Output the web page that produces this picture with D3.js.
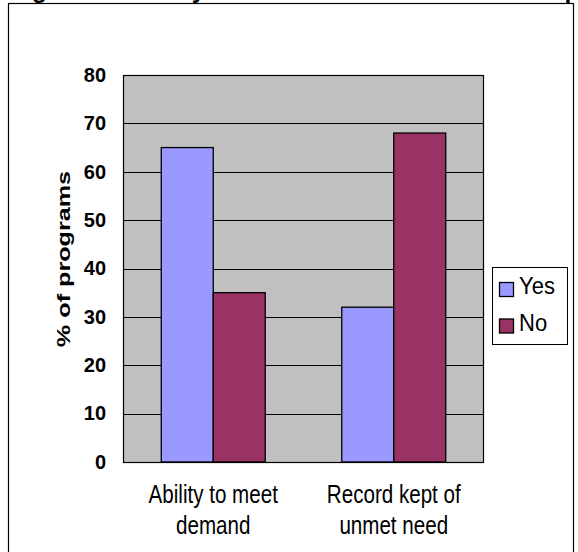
<!DOCTYPE html>
<html>
<head>
<meta charset="utf-8">
<script src="https://cdn.jsdelivr.net/npm/d3@7/dist/d3.min.js"></script>
<style>
  html, body { margin: 0; padding: 0; background: #fff; }
  svg { display: block; }
  text { font-family: Arial, "Liberation Sans", sans-serif; fill: #000; }
</style>
</head>
<body>
<svg id="chart" width="578" height="552"></svg>
<script>
const titleText = "Figure 10. Ability to meet demand and record kept of unmet need";
const categories = [["Ability to meet", "demand"], ["Record kept of", "unmet need"]];
const seriesNames = ["Yes", "No"];
const yesValues = [65, 32];
const noValues = [35, 68];
const yTicks = [0, 10, 20, 30, 40, 50, 60, 70, 80];
const yTitle = "% of programs";
const colors = ["#9999FF", "#993366"];

const svg = d3.select("#chart");
const plot = { left: 123, top: 75, right: 484, bottom: 462 };

// outer chart border
svg.append("rect").attr("x", 8.5).attr("y", 3.5).attr("width", 565).attr("height", 560)
  .attr("fill", "#fff").attr("stroke", "#000").attr("stroke-width", 1.2);

// cropped title (only descenders visible, as in the reference)
svg.append("text").attr("x", 10.4).attr("y", -2)
  .attr("font-size", 24.3).attr("font-weight", "bold").text(titleText);

const catKeys = categories.map(c => c.join(" "));
const x = d3.scaleBand().domain(catKeys).range([plot.left, plot.right])
  .paddingInner(0.424).paddingOuter(0.212);
const xs = d3.scaleBand().domain(seriesNames).range([0, x.bandwidth()]);
const y = d3.scaleLinear().domain([0, 80]).range([plot.bottom, plot.top]);

// plot area
svg.append("rect").attr("x", plot.left).attr("y", plot.top)
  .attr("width", plot.right - plot.left).attr("height", plot.bottom - plot.top)
  .attr("fill", "#C0C0C0");

// gridlines
svg.append("g").selectAll("line").data(yTicks.filter(t => t > 0 && t < 80)).join("line")
  .attr("x1", plot.left).attr("x2", plot.right)
  .attr("y1", d => Math.round(y(d)) + 0.5).attr("y2", d => Math.round(y(d)) + 0.5)
  .attr("stroke", "#000").attr("stroke-width", 1);

// bars
const data = [];
catKeys.forEach((k, i) => {
  data.push({ cat: k, s: "Yes", v: yesValues[i] });
  data.push({ cat: k, s: "No", v: noValues[i] });
});
svg.append("g").selectAll("rect").data(data).join("rect")
  .attr("x", d => x(d.cat) + xs(d.s))
  .attr("y", d => y(d.v))
  .attr("width", xs.bandwidth())
  .attr("height", d => y(0) - y(d.v))
  .attr("fill", d => colors[seriesNames.indexOf(d.s)])
  .attr("stroke", "#000").attr("stroke-width", 1.3);

// plot border
svg.append("rect").attr("x", plot.left + 0.5).attr("y", plot.top + 0.5)
  .attr("width", plot.right - plot.left - 1).attr("height", plot.bottom - plot.top)
  .attr("fill", "none").attr("stroke", "#000").attr("stroke-width", 1.2);

// y axis labels
const yAxis = d3.axisLeft(y).tickValues(yTicks).tickSize(0).tickPadding(17);
const ga = svg.append("g").attr("transform", `translate(${plot.left},0)`).call(yAxis);
ga.select(".domain").remove();
ga.selectAll("text").attr("font-size", 20).attr("font-weight", "bold")
  .attr("font-family", "Arial, 'Liberation Sans', sans-serif")
  .attr("transform", "scale(1,1.05)").attr("dy", "0.3em")
  .attr("y", function() { return 0; });
ga.selectAll(".tick").each(function(d) {
  d3.select(this).select("text").attr("transform", "scale(1,1.05)");
});

// y title (stretched vertically like the reference)
svg.append("text").attr("transform", "translate(70,259) scale(1,1.4) rotate(-90)")
  .attr("text-anchor", "middle").attr("font-size", 18).attr("font-weight", "bold")
  .text(yTitle);

// category labels (stretched vertically like the reference)
categories.forEach((lines, i) => {
  const cx = x(catKeys[i]) + x.bandwidth() / 2;
  lines.forEach((ln, j) => {
    svg.append("text")
      .attr("transform", `translate(${cx},${503 + j * 31}) scale(1,1.25)`)
      .attr("text-anchor", "middle").attr("font-size", 20.6).text(ln);
  });
});

// legend
const lg = svg.append("g");
lg.append("rect").attr("x", 492.5).attr("y", 267.5).attr("width", 75).attr("height", 77)
  .attr("fill", "#fff").attr("stroke", "#000").attr("stroke-width", 1);
seriesNames.forEach((s, i) => {
  lg.append("rect").attr("x", 499.5).attr("y", 282.5 + i * 36.5).attr("width", 14).attr("height", 14)
    .attr("fill", colors[i]).attr("stroke", "#000").attr("stroke-width", 1.3);
  lg.append("text").attr("transform", `translate(519,${294 + i * 36.5}) scale(1,1.05)`)
    .attr("font-size", 22).text(s);
});
</script>
</body>
</html>
